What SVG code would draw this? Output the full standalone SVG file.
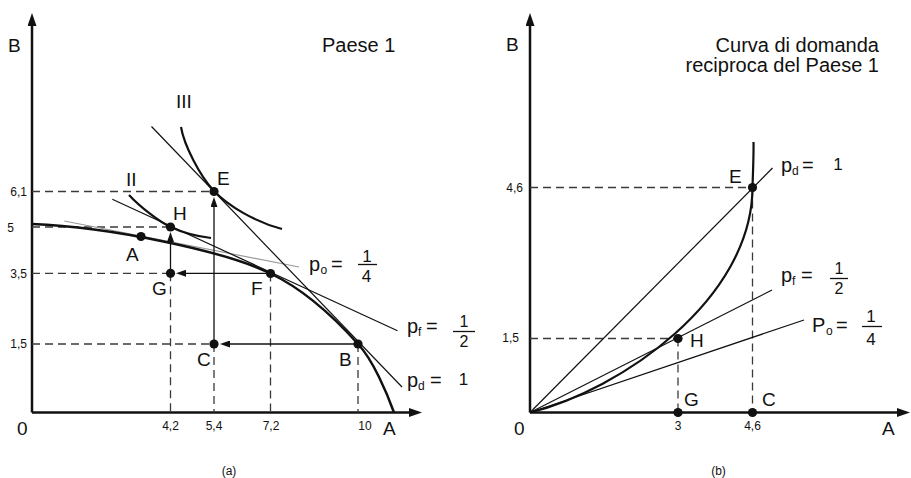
<svg xmlns="http://www.w3.org/2000/svg" width="911" height="478" viewBox="0 0 911 478">
  <style>
    text { font-family: "Liberation Sans", Arial, sans-serif; fill: #111; }
    .lbl { font-size: 19px; }
    .tick { font-size: 12px; }
    .big { font-size: 20px; }
    .sub { font-size: 12px; }
    .frac { font-size: 17px; }
    .frac2 { font-size: 16px; }
    .axis { stroke: #111; stroke-width: 2.5; fill: none; }
    .thick { stroke: #111; stroke-width: 2.5; fill: none; }
    .ic { stroke: #111; stroke-width: 2.2; fill: none; }
    .thin { stroke: #111; stroke-width: 1.2; fill: none; }
    .gray { stroke: #9a9a9a; stroke-width: 1.2; fill: none; }
    .dash { stroke: #3a3a3a; stroke-width: 1.3; stroke-dasharray: 8 5; fill: none; }
    .arr { stroke: #111; stroke-width: 1.3; fill: none; }
    .bar { stroke: #111; stroke-width: 1.3; }
    .dot { fill: #111; }
  </style>
  <defs>
    <marker id="axhead" viewBox="0 0 13 9" refX="3" refY="4.5" markerWidth="13" markerHeight="9" markerUnits="userSpaceOnUse" orient="auto">
      <path d="M0,0 L13,4.5 L0,9 z" fill="#111"/>
    </marker>
    <marker id="head" viewBox="0 0 10 7" refX="2" refY="3.5" markerWidth="10" markerHeight="7" markerUnits="userSpaceOnUse" orient="auto">
      <path d="M0,0 L10,3.5 L0,7 z" fill="#111"/>
    </marker>
  </defs>

  <!-- ================= Panel (a) ================= -->
  <g id="panel-a">
    <g id="a-axes">
      <line class="axis" x1="32" y1="412.5" x2="32" y2="23" marker-end="url(#axhead)"/>
      <line class="axis" x1="32" y1="412.5" x2="412" y2="412.5" marker-end="url(#axhead)"/>
      <text class="lbl" x="8" y="52">B</text>
      <text class="lbl" x="17" y="435">0</text>
      <text class="lbl" x="383" y="435">A</text>
      <text class="big" x="322" y="52">Paese 1</text>
      <text class="tick" x="27" y="196" text-anchor="end">6,1</text>
      <text class="tick" x="14" y="232" text-anchor="end">5</text>
      <text class="tick" x="27" y="278" text-anchor="end">3,5</text>
      <text class="tick" x="27" y="348" text-anchor="end">1,5</text>
      <text class="tick" x="170.5" y="430" text-anchor="middle">4,2</text>
      <text class="tick" x="214" y="430" text-anchor="middle">5,4</text>
      <text class="tick" x="271" y="430" text-anchor="middle">7,2</text>
      <text class="tick" x="365" y="430" text-anchor="middle">10</text>
      <text class="tick" x="229" y="475" text-anchor="middle">(a)</text>
    </g>

    <g id="a-connectors">
      <line class="dash" x1="32" y1="191.5" x2="214" y2="191.5"/>
      <line class="dash" x1="32" y1="227" x2="170.5" y2="227"/>
      <line class="dash" x1="32" y1="273.3" x2="170.5" y2="273.3"/>
      <line class="dash" x1="32" y1="344" x2="214" y2="344"/>
      <line class="dash" x1="170.5" y1="273.3" x2="170.5" y2="412.5"/>
      <line class="dash" x1="214" y1="344" x2="214" y2="412.5"/>
      <line class="dash" x1="270.5" y1="273.5" x2="270.5" y2="412.5"/>
      <line class="dash" x1="358" y1="344" x2="358" y2="412.5"/>
      <line class="gray" x1="64.3" y1="221" x2="299" y2="267"/>
      <line class="thin" x1="112.3" y1="199.3" x2="397.5" y2="330.7"/>
      <line class="thin" x1="151.5" y1="126.5" x2="402" y2="387"/>
      <line class="arr" x1="266" y1="273.3" x2="184" y2="273.3" marker-end="url(#head)"/>
      <line class="arr" x1="170.5" y1="273.3" x2="170.5" y2="240" marker-end="url(#head)"/>
      <line class="arr" x1="354" y1="344" x2="228" y2="344" marker-end="url(#head)"/>
      <line class="arr" x1="214" y1="344" x2="214" y2="205" marker-end="url(#head)"/>
    </g>

    <g id="a-ppf">
      <path class="thick" d="M32,224 C110,227 225,251 270.5,273.5 C305,290 333,316 358,344 C373,360 387,393 394,412.5"/>
    </g>
    <g id="a-ic2">
      <path class="ic" d="M129,195 C140,207 160,222.2 170.5,227 C182,232.3 198,236.5 211,238"/>
      <text class="lbl" x="126" y="186">II</text>
    </g>
    <g id="a-ic3">
      <path class="ic" d="M181,127 C184,145 200,176.3 214,191 C228,205.7 255,222 282,229"/>
      <text class="lbl" x="176" y="108">III</text>
    </g>

    <g id="a-E"><circle class="dot" cx="214" cy="191.5" r="4.6"/><text class="lbl" x="217" y="185">E</text></g>
    <g id="a-H"><circle class="dot" cx="170.5" cy="227" r="4.6"/><text class="lbl" x="173" y="220">H</text></g>
    <g id="a-A"><circle class="dot" cx="141" cy="236.5" r="4.6"/><text class="lbl" x="126" y="261">A</text></g>
    <g id="a-G"><circle class="dot" cx="170.5" cy="273.3" r="4.6"/><text class="lbl" x="152" y="295">G</text></g>
    <g id="a-F"><circle class="dot" cx="270.5" cy="273.5" r="4.6"/><text class="lbl" x="251" y="295">F</text></g>
    <g id="a-C"><circle class="dot" cx="214" cy="344" r="4.6"/><text class="lbl" x="197" y="366">C</text></g>
    <g id="a-B"><circle class="dot" cx="358" cy="344" r="4.6"/><text class="lbl" x="339" y="366">B</text></g>

    <g id="a-po">
      <text class="big" x="309" y="271">p</text><text class="sub" x="320.5" y="274">o</text><text class="big" x="331" y="271">=</text>
      <text class="frac" x="367" y="262" text-anchor="middle">1</text>
      <text class="frac" x="366.5" y="282" text-anchor="middle">4</text>
      <line class="bar" x1="358" y1="264.5" x2="377" y2="264.5"/>
    </g>
    <g id="a-pf">
      <text class="big" x="407" y="333">p</text><text class="sub" x="418" y="336">f</text><text class="big" x="426" y="333">=</text>
      <text class="frac2" x="464" y="327" text-anchor="middle">1</text>
      <text class="frac2" x="464" y="347" text-anchor="middle">2</text>
      <line class="bar" x1="453" y1="331.5" x2="475" y2="331.5"/>
    </g>
    <g id="a-pd">
      <text class="big" x="407" y="387">p</text><text class="sub" x="418" y="390">d</text><text class="big" x="430" y="387">=</text>
      <text class="frac" x="463.5" y="385" text-anchor="middle">1</text>
    </g>
  </g>

  <!-- ================= Panel (b) ================= -->
  <g id="panel-b">
    <g id="b-axes">
      <line class="axis" x1="530" y1="412.5" x2="530" y2="23" marker-end="url(#axhead)"/>
      <line class="axis" x1="530" y1="412.5" x2="900" y2="412.5" marker-end="url(#axhead)"/>
      <text class="lbl" x="506" y="51">B</text>
      <text class="lbl" x="514" y="435">0</text>
      <text class="lbl" x="882" y="435">A</text>
      <text class="big" x="879" y="52" text-anchor="end">Curva di domanda</text>
      <text class="big" x="879" y="72" text-anchor="end">reciproca del Paese 1</text>
      <text class="tick" x="523" y="192" text-anchor="end">4,6</text>
      <text class="tick" x="519" y="342" text-anchor="end">1,5</text>
      <text class="tick" x="678" y="430" text-anchor="middle">3</text>
      <text class="tick" x="752.5" y="430" text-anchor="middle">4,6</text>
      <text class="tick" x="718.5" y="475" text-anchor="middle">(b)</text>
    </g>

    <g id="b-connectors">
      <line class="dash" x1="530" y1="187.5" x2="752.5" y2="187.5"/>
      <line class="dash" x1="752.5" y1="187.5" x2="752.5" y2="412.5"/>
      <line class="dash" x1="530" y1="338.5" x2="678" y2="338.5"/>
      <line class="dash" x1="678" y1="338.5" x2="678" y2="412.5"/>
      <line class="thin" x1="530" y1="412.5" x2="772.5" y2="168"/>
      <line class="thin" x1="530" y1="412.5" x2="772" y2="290"/>
      <line class="thin" x1="530" y1="412.5" x2="804" y2="320"/>
    </g>

    <g id="b-offer">
      <path class="ic" d="M530,412.5 C620,390 752,300 752.5,187.5 C753,170 753.8,155 753.5,142"/>
    </g>

    <g id="b-E"><circle class="dot" cx="752.5" cy="187.5" r="4.6"/><text class="lbl" x="729" y="183">E</text></g>
    <g id="b-H"><circle class="dot" cx="678" cy="338.5" r="4.6"/><text class="lbl" x="690" y="347">H</text></g>
    <g id="b-G"><circle class="dot" cx="678" cy="412.5" r="4.6"/><text class="lbl" x="684" y="406">G</text></g>
    <g id="b-C"><circle class="dot" cx="752.5" cy="412.5" r="4.6"/><text class="lbl" x="762" y="406">C</text></g>

    <g id="b-pd">
      <text class="big" x="781" y="172">p</text><text class="sub" x="792" y="175">d</text><text class="big" x="802" y="172">=</text>
      <text class="frac" x="838" y="170" text-anchor="middle">1</text>
    </g>
    <g id="b-pf">
      <text class="big" x="781" y="282">p</text><text class="sub" x="792" y="285">f</text><text class="big" x="801" y="282">=</text>
      <text class="frac2" x="839" y="274" text-anchor="middle">1</text>
      <text class="frac2" x="839" y="294" text-anchor="middle">2</text>
      <line class="bar" x1="830" y1="278.5" x2="848" y2="278.5"/>
    </g>
    <g id="b-po">
      <text class="big" x="812" y="332">P</text><text class="sub" x="826" y="335">o</text><text class="big" x="836" y="332">=</text>
      <text class="frac" x="871" y="322" text-anchor="middle">1</text>
      <text class="frac" x="871" y="345" text-anchor="middle">4</text>
      <line class="bar" x1="862" y1="326.5" x2="882" y2="326.5"/>
    </g>
  </g>
</svg>
